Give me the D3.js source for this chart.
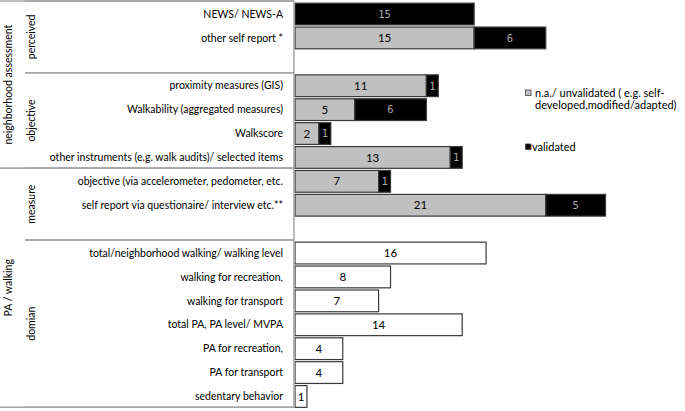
<!DOCTYPE html>
<html>
<head>
<meta charset="utf-8">
<script src="https://cdn.jsdelivr.net/npm/d3@7"></script>
<style>
  body { margin: 0; background: #fff; }
  text { font-family: Lato, "Open Sans", sans-serif; }
</style>
</head>
<body>
<div id="chart"></div>
<script>
// rows top to bottom, "" = empty spacer row
const categories = [
  "NEWS/ NEWS-A",
  "other self report *",
  "",
  "proximity measures (GIS)",
  "Walkability (aggregated measures)",
  "Walkscore",
  "other instruments (e.g. walk audits)/ selected items",
  "objective (via accelerometer, pedometer, etc.",
  "self report via questionaire/ interview etc.**",
  "",
  "total/neighborhood walking/ walking level",
  "walking for recreation,",
  "walking for transport",
  "total PA, PA level/ MVPA",
  "PA for recreation,",
  "PA for transport",
  "sedentary behavior"
];
const unvalidated = [0, 15, 0, 11, 5, 2, 13, 7, 21, 0, 0, 0, 0, 0, 0, 0, 0];
const validated   = [15, 6, 0, 1, 6, 1, 1, 1, 5, 0, 0, 0, 0, 0, 0, 0, 0];
const domainCount = [0, 0, 0, 0, 0, 0, 0, 0, 0, 0, 16, 8, 7, 14, 4, 4, 1];

// group brackets: [label, first row, last row, level]
const groups = [
  ["neighborhood assessment", 0, 6, 0],
  ["PA / walking", 7, 16, 0],
  ["perceived", 0, 2, 1],
  ["objective", 3, 6, 1],
  ["measure", 7, 9, 1],
  ["domian", 10, 16, 1]
];
const legendLabels = [["n.a./ unvalidated ( e.g. self-", "developed,modified/adapted)"], ["validated"]];

const width = 685, height = 411;
const svg = d3.select("#chart").append("svg")
  .attr("width", width)
  .attr("height", height);

const rows = categories.map((c, i) => i);
const y = d3.scaleBand().domain(rows).range([1, 409.5]).padding(0.09);
const x = d3.scaleLinear().domain([0, 26]).range([295, 605.5]);

// segments
const segs = [];
rows.forEach(i => {
  if (unvalidated[i]) segs.push({ i, x0: 0, x1: unvalidated[i], fill: "#c0c0c0", txt: "#000", v: unvalidated[i] });
  if (validated[i]) segs.push({ i, x0: unvalidated[i], x1: unvalidated[i] + validated[i], fill: "#000", txt: "#a8a8a8", v: validated[i], mono: true });
  if (domainCount[i]) segs.push({ i, x0: 0, x1: domainCount[i], fill: "#fff", txt: "#000", v: domainCount[i] });
});

svg.append("g").selectAll("rect")
  .data(segs)
  .join("rect")
  .attr("x", d => x(d.x0))
  .attr("y", d => y(d.i))
  .attr("width", d => x(d.x1) - x(d.x0))
  .attr("height", y.bandwidth())
  .attr("fill", d => d.fill)
  .attr("stroke", "#3a3a3a")
  .attr("stroke-width", 1.2);

svg.append("g").selectAll("text")
  .data(segs)
  .join("text")
  .attr("x", d => (x(d.x0) + x(d.x1)) / 2)
  .attr("y", d => y(d.i) + y.bandwidth() / 2)
  .attr("dy", "0.36em")
  .attr("text-anchor", "middle")
  .attr("fill", d => d.txt)
  .style("font-family", d => d.mono ? "'DejaVu Sans Mono', monospace" : null)
  .attr("font-size", d => d.mono ? "10.5px" : "11.5px")
  .text(d => d.v);

// category labels
svg.append("g").selectAll("text")
  .data(rows.filter(i => categories[i]))
  .join("text")
  .attr("x", 283)
  .attr("y", i => y(i) + y.bandwidth() / 2)
  .attr("dy", "0.35em")
  .attr("text-anchor", "end")
  .attr("font-size", "10.5px")
  .attr("fill", "#000")
  .text(i => categories[i]);

// axis + bracket lines
const step = y.step();
const yTop = y.range()[0];
svg.append("line")
  .attr("x1", 294).attr("x2", 294)
  .attr("y1", yTop).attr("y2", yTop + step * categories.length)
  .attr("stroke", "#a6a6a6").attr("stroke-width", 1.5);

const lineYs = [];
groups.forEach(([label, a, b, lvl]) => {
  lineYs.push({ y: yTop + step * a, lvl });
  lineYs.push({ y: yTop + step * (b + 1), lvl });
});
svg.append("g").selectAll("line")
  .data(lineYs)
  .join("line")
  .attr("x1", d => d.lvl === 0 ? 0 : 25)
  .attr("x2", 294)
  .attr("y1", d => d.y)
  .attr("y2", d => d.y)
  .attr("stroke", "#a6a6a6")
  .attr("stroke-width", 1.5);

svg.append("g").selectAll("text")
  .data(groups)
  .join("text")
  .attr("transform", d => `translate(${d[3] === 0 ? 8 : 31},${yTop + step * (d[1] + d[2] + 1) / 2}) rotate(-90)`)
  .attr("dy", "0.35em")
  .attr("text-anchor", "middle")
  .attr("font-size", "10.5px")
  .text(d => d[0]);

// legend
const legend = svg.append("g");
const legendItems = [
  { fill: "#c0c0c0", y: 93, lines: legendLabels[0], tx: 535 },
  { fill: "#000", y: 147, lines: legendLabels[1], tx: 532 }
];
legend.selectAll("rect")
  .data(legendItems)
  .join("rect")
  .attr("x", 525.5)
  .attr("y", d => d.y - 3)
  .attr("width", 5.5)
  .attr("height", 5.5)
  .attr("fill", d => d.fill)
  .attr("stroke", "#444")
  .attr("stroke-width", 0.8);
legendItems.forEach(d => {
  d.lines.forEach((ln, k) => {
    legend.append("text")
      .attr("x", d.tx)
      .attr("y", d.y + k * 12)
      .attr("dy", "0.35em")
      .attr("font-size", "11px")
      .text(ln);
  });
});
</script>
</body>
</html>
